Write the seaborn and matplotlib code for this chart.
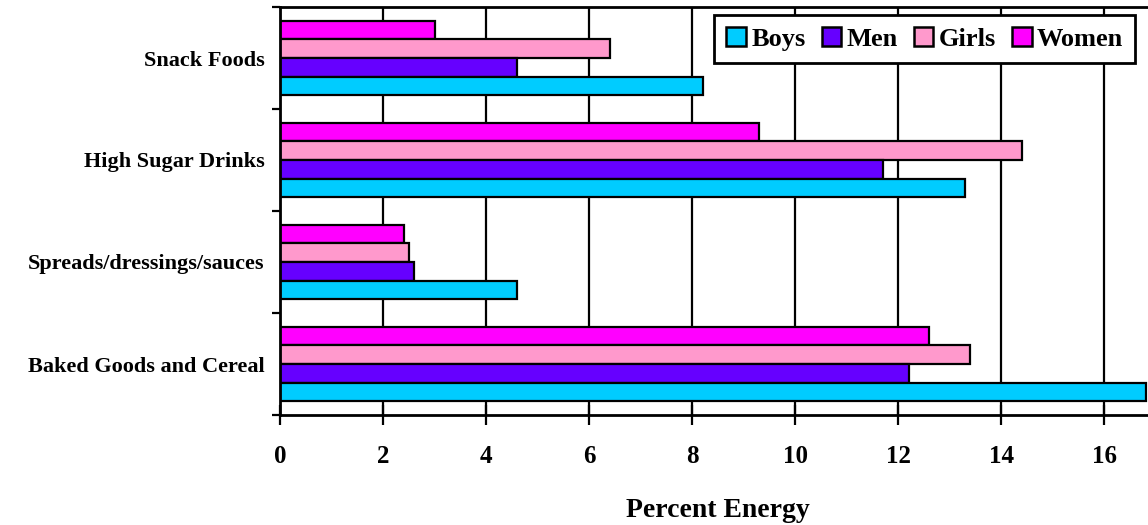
import matplotlib
matplotlib.use("Agg")
import matplotlib.pyplot as plt
from matplotlib.patches import Patch
import seaborn as sns
import pandas as pd

categories = ["Snack Foods", "High Sugar Drinks", "Spreads/dressings/sauces", "Baked Goods and Cereal"]
groups = ["Boys", "Men", "Girls", "Women"]
boys = [8.2, 13.3, 4.6, 16.8]
men = [4.6, 11.7, 2.6, 12.2]
girls = [6.4, 14.4, 2.5, 13.4]
women = [3.0, 9.3, 2.4, 12.6]
x_ticks = [0, 2, 4, 6, 8, 10, 12, 14, 16]

colors = {"Boys": "#00CCFF", "Men": "#6600FF", "Girls": "#FF99CC", "Women": "#FF00FF"}

rows = []
for name, vals in zip(groups, [boys, men, girls, women]):
    for cat, v in zip(categories, vals):
        rows.append({"Category": cat, "Group": name, "Value": v})
df = pd.DataFrame(rows)

sns.set_style("white")
plt.rcParams["font.family"] = ["Liberation Serif", "DejaVu Serif"]
plt.rcParams["font.weight"] = "bold"
plt.rcParams["text.color"] = "black"
plt.rcParams["xtick.color"] = "black"
plt.rcParams["ytick.color"] = "black"
plt.rcParams["axes.labelcolor"] = "black"

fig = plt.figure(figsize=(11.48, 5.25), dpi=100)
W, H = 1148, 525
left, right, top, bottom = 280, 1156, 7, 415
ax = fig.add_axes([left / W, 1 - bottom / H, (right - left) / W, (bottom - top) / H])

draw_order = ["Women", "Girls", "Men", "Boys"]
sns.barplot(data=df, y="Category", x="Value", hue="Group", order=categories,
            hue_order=draw_order, palette=colors, orient="h", width=0.73,
            edgecolor="black", linewidth=1.6, saturation=1, ax=ax, legend=False)

ax.set_xlim(0, 17)
ax.set_ylim(3.5, -0.5)
ax.set_xticks(x_ticks)
ax.set_xticklabels([str(t) for t in x_ticks], fontsize=18, fontweight="bold")
ax.xaxis.grid(True, color="black", linewidth=1.6)
ax.yaxis.grid(False)
ax.set_axisbelow(True)

# Group boundary ticks without labels; labels sit at group centres
ax.set_yticks([-0.5, 0.5, 1.5, 2.5, 3.5])
ax.set_yticklabels([])
ax.set_yticks(range(len(categories)), minor=True)
ax.set_yticklabels(categories, minor=True, fontsize=16, fontweight="bold")
ax.tick_params(axis="y", which="major", direction="out", length=6, width=1.6, color="black", left=True)
ax.tick_params(axis="y", which="minor", length=0, pad=11)
ax.tick_params(axis="x", direction="inout", length=15, width=1.6, color="black", bottom=True, pad=14)

for side in ["left", "bottom", "top", "right"]:
    ax.spines[side].set_visible(True)
    ax.spines[side].set_color("black")
    ax.spines[side].set_linewidth(2)

ax.set_ylabel("")
ax.set_xlabel("Percent Energy", fontsize=20, fontweight="bold", labelpad=22)

handles = [Patch(facecolor=colors[g], edgecolor="black", linewidth=1.8) for g in groups]
leg = fig.legend(handles, groups, loc="upper right", bbox_to_anchor=(1135 / W, 1 - 15 / H),
                 ncol=4, frameon=True, fancybox=False, framealpha=1,
                 prop={"weight": "bold", "size": 19},
                 handlelength=0.75, handleheight=0.75, handletextpad=0.2, columnspacing=0.6,
                 borderpad=0.45, borderaxespad=0)
leg.get_frame().set_edgecolor("black")
leg.get_frame().set_linewidth(2)
for t in leg.get_texts():
    t.set_color("black")

fig.savefig("out.png", dpi=100)
